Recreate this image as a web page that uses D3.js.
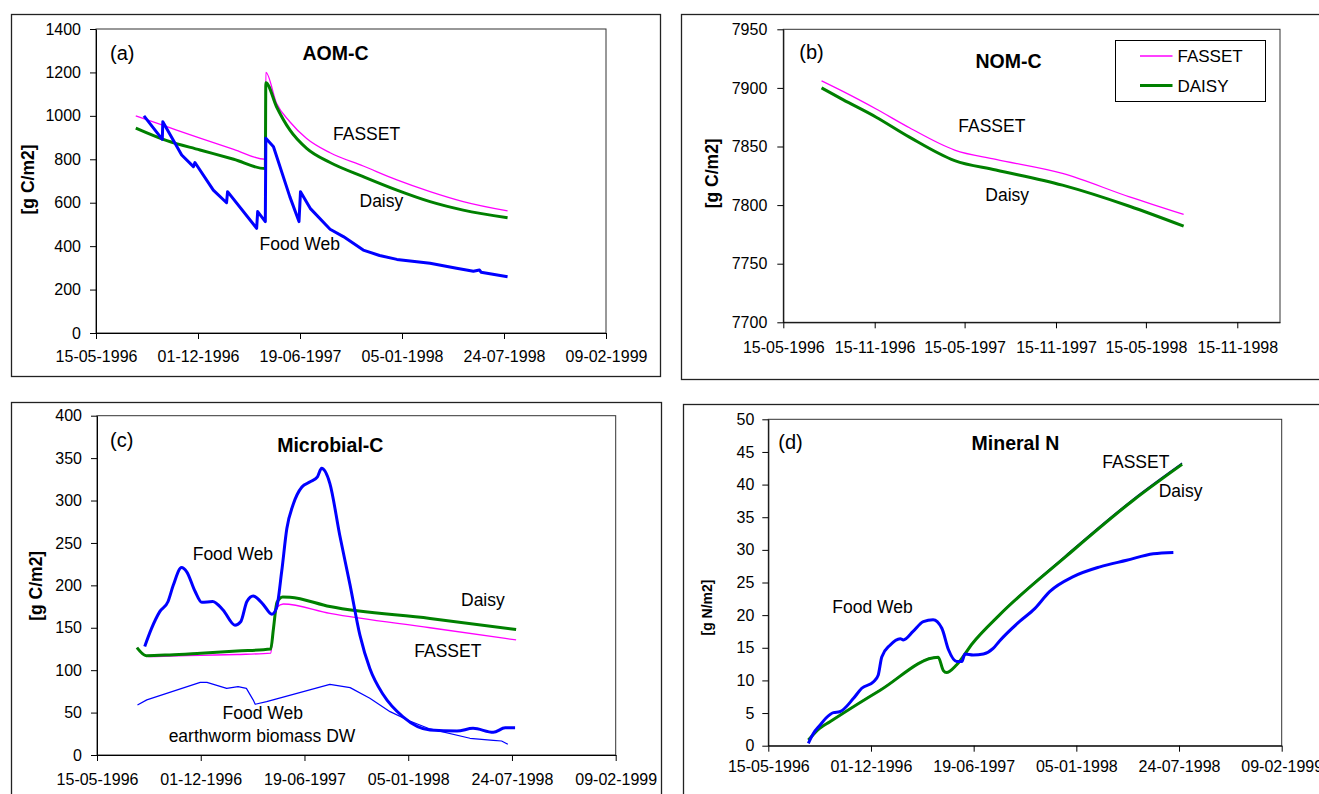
<!DOCTYPE html>
<html>
<head>
<meta charset="utf-8">
<script src="https://cdnjs.cloudflare.com/ajax/libs/d3/7.8.5/d3.min.js"></script>
<style>
    body { margin: 0; background: #fff; }
    svg text { font-family: "Liberation Sans", Arial, sans-serif; fill: #000; }
</style>
</head>
<body>
<svg id="chart" width="1319" height="794"></svg>
<script>
var parseDate = d3.timeParse("%d-%m-%Y");
var fmtDate = d3.timeFormat("%d-%m-%Y");

//==========================================================================================================
// tick labels
var xTicksMain = ["15-05-1996", "01-12-1996", "19-06-1997", "05-01-1998", "24-07-1998", "09-02-1999"];
var xTicksNom = ["15-05-1996", "15-11-1996", "15-05-1997", "15-11-1997", "15-05-1998", "15-11-1998"];
var yTicksAom = [0, 200, 400, 600, 800, 1000, 1200, 1400];
var yTicksNom = [7700, 7750, 7800, 7850, 7900, 7950];
var yTicksMic = [0, 50, 100, 150, 200, 250, 300, 350, 400];
var yTicksMin = [0, 5, 10, 15, 20, 25, 30, 35, 40, 45, 50];
var legendNames = ["FASSET", "DAISY"];

//==========================================================================================================
// (a) AOM-C  [date, g C/m2]
var aomFasset = [["01-08-1996", 1000], ["01-10-1996", 950], ["05-12-1996", 897], ["09-02-1997", 846],
    ["12-04-1997", 800], ["13-04-1997", 1200], ["04-05-1997", 1058], ["30-05-1997", 973], ["02-07-1997", 896],
    ["17-08-1997", 830], ["21-10-1997", 769], ["26-12-1997", 705], ["01-03-1998", 651], ["05-05-1998", 605],
    ["31-07-1998", 562]];
var aomDaisy = [["01-08-1996", 944], ["01-10-1996", 886], ["05-12-1996", 843], ["09-02-1997", 800],
    ["12-04-1997", 757], ["13-04-1997", 1153], ["04-05-1997", 1042], ["30-05-1997", 935], ["02-07-1997", 850],
    ["17-08-1997", 785], ["21-10-1997", 720], ["26-12-1997", 658], ["01-03-1998", 605], ["05-05-1998", 566],
    ["31-07-1998", 531]];
var aomFoodWeb = [["17-08-1996", 1000], ["22-09-1996", 892], ["23-09-1996", 973], ["30-10-1996", 820],
    ["22-11-1996", 766], ["25-11-1996", 785], ["31-12-1996", 658], ["26-01-1997", 600], ["28-01-1997", 651],
    ["26-03-1997", 482], ["28-03-1997", 559], ["12-04-1997", 513], ["13-04-1997", 897], ["28-04-1997", 858],
    ["30-05-1997", 628], ["17-06-1997", 513], ["20-06-1997", 651], ["09-07-1997", 574], ["17-08-1997", 478],
    ["12-09-1997", 444], ["21-10-1997", 382], ["22-11-1997", 357], ["26-12-1997", 339], ["01-03-1998", 321],
    ["22-04-1998", 298], ["25-05-1998", 284], ["06-06-1998", 290], ["09-06-1998", 280], ["31-07-1998", 259]];

// (b) NOM-C
var nomFasset = [["31-07-1996", 7906], ["12-09-1996", 7897], ["18-11-1996", 7882], ["24-01-1997", 7866],
    ["25-04-1997", 7847], ["17-07-1997", 7839], ["28-11-1997", 7827],
    ["12-04-1998", 7807], ["30-07-1998", 7792]];
var nomDaisy = [["31-07-1996", 7900], ["12-09-1996", 7890], ["18-11-1996", 7875], ["24-01-1997", 7858],
    ["25-04-1997", 7838], ["17-07-1997", 7830], ["28-11-1997", 7817],
    ["12-04-1998", 7799], ["30-07-1998", 7782]];

// (c) Microbial-C
var micFasset = [["31-07-1996", 126.6], ["23-08-1996", 116], ["02-10-1996", 116.5], ["01-12-1996", 117.5],
    ["09-02-1997", 118.5], ["15-04-1997", 120], ["20-04-1997", 148], ["27-04-1997", 174], ["09-05-1997", 178],
    ["07-08-1997", 167], ["16-02-1998", 150], ["01-08-1998", 135.6]];
var micDaisy = [["31-07-1996", 126.6], ["18-08-1996", 117.1], ["02-10-1996", 118], ["01-12-1996", 120],
    ["09-02-1997", 122.5], ["15-04-1997", 125], ["20-04-1997", 148], ["27-04-1997", 180], ["08-05-1997", 186.3],
    ["22-05-1997", 186], ["07-08-1997", 175], ["16-02-1998", 161], ["01-08-1998", 148]];
var micFoodWeb = [["15-08-1996", 128], ["28-08-1996", 149], ["13-09-1996", 169], ["29-09-1996", 181],
    ["09-10-1996", 200], ["25-10-1996", 221], ["04-11-1996", 216], ["20-11-1996", 193], ["03-12-1996", 180],
    ["24-12-1996", 181], ["13-01-1997", 171], ["05-02-1997", 153], ["16-02-1997", 157], ["28-02-1997", 181],
    ["12-03-1997", 187.5], ["01-04-1997", 177], ["17-04-1997", 166], ["26-04-1997", 173], ["06-05-1997", 216],
    ["16-05-1997", 267], ["28-05-1997", 295], ["14-06-1997", 316], ["30-06-1997", 322], ["14-07-1997", 328],
    ["22-07-1997", 338], ["07-08-1997", 320], ["26-08-1997", 259], ["15-09-1997", 200], ["04-10-1997", 141],
    ["23-10-1997", 102], ["18-11-1997", 71], ["26-12-1997", 45], ["16-02-1998", 29.5], ["09-04-1998", 28.3],
    ["10-05-1998", 31.4], ["18-06-1998", 26.7], ["11-07-1998", 32], ["30-07-1998", 32]];
var micWorm = [["01-08-1996", 59], ["19-08-1996", 65], ["30-11-1996", 85.7], ["13-12-1996", 85.7],
    ["20-01-1997", 78.6], ["11-02-1997", 80.6], ["27-02-1997", 78.6], ["12-03-1997", 65], ["16-03-1997", 59.8],
    ["07-04-1997", 62.9], ["07-08-1997", 83.3], ["15-09-1997", 79.4], ["23-10-1997", 66.8], ["01-12-1997", 51.1],
    ["08-01-1998", 40.1], ["16-02-1998", 30.7], ["04-05-1998", 19.7], ["18-06-1998", 17.3], ["04-07-1998", 16.5],
    ["16-07-1998", 12.6]];

// (d) Mineral N  [date, g N/m2]
var minFasset = [["01-08-1996", 0.9], ["23-08-1996", 2.7], ["12-09-1996", 3.7], ["19-12-1996", 8.55],
    ["11-04-1997", 13.6], ["21-04-1997", 11.5], ["27-04-1997", 11.2], ["17-05-1997", 12.4], ["17-06-1997", 15.75],
    ["08-08-1997", 20.1], ["16-12-1997", 29.2], ["26-04-1998", 37.8], ["30-07-1998", 43.3]];
var minDaisy = [["01-08-1996", 0.87], ["23-08-1996", 2.66], ["12-09-1996", 3.68], ["19-12-1996", 8.5],
    ["11-04-1997", 13.54], ["21-04-1997", 11.5], ["27-04-1997", 11.2], ["17-05-1997", 12.4], ["17-06-1997", 15.7],
    ["08-08-1997", 20], ["16-12-1997", 29], ["26-04-1998", 37.6], ["30-07-1998", 43.1]];
var minFoodWeb = [["01-08-1996", 0.36], ["11-08-1996", 1.9], ["24-08-1996", 3.17], ["04-09-1996", 4.2],
    ["19-09-1996", 5.06], ["01-10-1996", 5.2], ["28-10-1996", 7.26], ["13-11-1996", 8.8], ["06-12-1996", 9.8],
    ["15-12-1996", 10.8], ["22-12-1996", 13.6], ["07-01-1997", 15.4], ["27-01-1997", 16.4], ["02-02-1997", 16.2],
    ["21-02-1997", 17.5], ["13-03-1997", 19], ["01-04-1997", 19.3], ["18-04-1997", 18], ["01-05-1997", 14.7],
    ["17-05-1997", 12.9], ["27-05-1997", 12.9], ["02-06-1997", 14.05], ["18-06-1997", 13.9], ["08-07-1997", 14.05],
    ["27-07-1997", 14.9], ["08-08-1997", 16], ["16-09-1997", 19], ["16-10-1997", 21], ["14-11-1997", 23.6],
    ["30-12-1997", 25.9], ["20-02-1998", 27.4], ["13-04-1998", 28.4], ["04-06-1998", 29.4], ["13-07-1998", 29.6]];

//==========================================================================================================
var MAGENTA = "#ff00ff", GREEN = "#008000", BLUE = "#0000ff", NAVY = "#000080";
var xStart = parseDate("15-05-1996"), xEnd = parseDate("09-02-1999");

var svg = d3.select("#chart");

var panels = [
    {
        box: [11, 14, 649, 362], plot: { l: 96, r: 606, t: 29, b: 333 },
        yDomain: [0, 1400], yTicks: yTicksAom, xTicks: xTicksMain, padX: 12, padY: 9,
        series: [
            { data: aomFasset, color: MAGENTA, width: 1.3, smooth: true },
            { data: aomDaisy, color: GREEN, width: 3, smooth: true },
            { data: aomFoodWeb, color: BLUE, width: 3, smooth: false }
        ],
        ylabel: { text: "[g C/m2]", x: 27.5, y: 179.5, size: 17.5 },
        labels: [
            { text: "(a)", x: 110, y: 59.5, size: 20 },
            { text: "AOM-C", x: 335.5, y: 60, size: 19.5, bold: true, anchor: "middle" },
            { text: "FASSET", x: 333, y: 140, size: 17.5 },
            { text: "Daisy", x: 359.5, y: 206.5, size: 17.5 },
            { text: "Food Web", x: 259.5, y: 250.3, size: 17.5 }
        ]
    },
    {
        box: [681, 14, 700, 365], plot: { l: 783.3, r: 1280, t: 29.3, b: 322.3 },
        yDomain: [7700, 7950], yTicks: yTicksNom, xTicks: xTicksNom, padX: 13, padY: 10,
        series: [
            { data: nomFasset, color: MAGENTA, width: 1.3, smooth: true },
            { data: nomDaisy, color: GREEN, width: 3, smooth: true }
        ],
        ylabel: { text: "[g C/m2]", x: 711.5, y: 173.3, size: 17.5 },
        labels: [
            { text: "(b)", x: 799.3, y: 59, size: 20 },
            { text: "NOM-C", x: 1008.5, y: 68.3, size: 19.5, bold: true, anchor: "middle" },
            { text: "FASSET", x: 958.3, y: 131.7, size: 17.5 },
            { text: "Daisy", x: 985.3, y: 200.7, size: 17.5 }
        ],
        legend: { x: 1115.5, y: 40.5, w: 150, h: 61, colors: [MAGENTA, GREEN], widths: [1.3, 3] }
    },
    {
        box: [11, 402, 650, 420], plot: { l: 97, r: 615.7, t: 415.7, b: 755 },
        yDomain: [0, 400], yTicks: yTicksMic, xTicks: xTicksMain, padX: 13, padY: 9,
        series: [
            { data: micFasset, color: MAGENTA, width: 1.3, smooth: true },
            { data: micDaisy, color: GREEN, width: 3, smooth: true },
            { data: micWorm, color: BLUE, width: 1.2, smooth: false },
            { data: micFoodWeb, color: BLUE, width: 3, smooth: true }
        ],
        ylabel: { text: "[g C/m2]", x: 36, y: 585.8, size: 17.5 },
        labels: [
            { text: "(c)", x: 110, y: 446.5, size: 20 },
            { text: "Microbial-C", x: 330.3, y: 452.3, size: 19.5, bold: true, anchor: "middle" },
            { text: "Food Web", x: 192.7, y: 560, size: 17.5 },
            { text: "Daisy", x: 461, y: 606, size: 17.5 },
            { text: "FASSET", x: 414.3, y: 656.7, size: 17.5 },
            { text: "Food Web", x: 262.7, y: 719, size: 17.5, anchor: "middle" },
            { text: "earthworm biomass DW", x: 262, y: 741.7, size: 17.5, anchor: "middle" }
        ]
    },
    {
        box: [683, 404, 700, 420], plot: { l: 768.3, r: 1281.7, t: 419.3, b: 745.7 },
        yDomain: [0, 50], yTicks: yTicksMin, xTicks: xTicksMain, padX: 9, padY: 8,
        series: [
            { data: minFasset, color: NAVY, width: 1.2, smooth: true },
            { data: minDaisy, color: GREEN, width: 3, smooth: true },
            { data: minFoodWeb, color: BLUE, width: 3, smooth: true }
        ],
        ylabel: { text: "[g N/m2]", x: 707, y: 607.5, size: 14 },
        labels: [
            { text: "(d)", x: 778.3, y: 449, size: 20 },
            { text: "Mineral N", x: 1015.5, y: 450, size: 19.5, bold: true, anchor: "middle" },
            { text: "FASSET", x: 1102.3, y: 468.3, size: 17.5 },
            { text: "Daisy", x: 1158.7, y: 497, size: 17.5 },
            { text: "Food Web", x: 832.3, y: 613.3, size: 17.5 }
        ]
    }
];

//==========================================================================================================
// draw one panel
var drawPanel = function (p) {
    var g = svg.append("g");

    // outer frame
    g.append("rect")
        .attr("x", p.box[0] + 0.5).attr("y", p.box[1] + 0.5)
        .attr("width", p.box[2]).attr("height", p.box[3])
        .attr("fill", "none").attr("stroke", "#222").attr("stroke-width", 1.3);

    var xScale = d3.scaleTime().domain([xStart, xEnd]).range([p.plot.l, p.plot.r]);
    var yScale = d3.scaleLinear().domain(p.yDomain).range([p.plot.b, p.plot.t]);

    // plot area border
    g.append("rect")
        .attr("x", p.plot.l).attr("y", p.plot.t)
        .attr("width", p.plot.r - p.plot.l).attr("height", p.plot.b - p.plot.t)
        .attr("fill", "none").attr("stroke", "#333").attr("stroke-width", 1);

    var xAxis = d3.axisBottom(xScale)
        .tickValues(p.xTicks.map(parseDate))
        .tickFormat(fmtDate)
        .tickSize(6).tickSizeOuter(0).tickPadding(p.padX);
    var yAxis = d3.axisLeft(yScale)
        .tickValues(p.yTicks)
        .tickFormat(d3.format("d"))
        .tickSize(6).tickSizeOuter(0).tickPadding(p.padY);

    var gx = g.append("g").attr("transform", "translate(0," + p.plot.b + ")").call(xAxis);
    var gy = g.append("g").attr("transform", "translate(" + p.plot.l + ",0)").call(yAxis);
    [gx, gy].forEach(function (a) {
        a.attr("font-size", 16).attr("font-family", "Liberation Sans, Arial, sans-serif");
        a.selectAll("line, path").attr("stroke", "#000").attr("stroke-width", 1);
    });

    // series
    p.series.forEach(function (s) {
        var line = d3.line()
            .x(function (d) { return xScale(parseDate(d[0])); })
            .y(function (d) { return yScale(d[1]); })
            .curve(s.smooth ? d3.curveMonotoneX : d3.curveLinear);
        g.append("path")
            .attr("d", line(s.data))
            .attr("fill", "none")
            .attr("stroke", s.color)
            .attr("stroke-width", s.width)
            .attr("stroke-linejoin", "round");
    });

    // y axis title
    g.append("text")
        .attr("transform", "translate(" + p.ylabel.x + "," + p.ylabel.y + ") rotate(-90)")
        .attr("text-anchor", "middle")
        .attr("dominant-baseline", "central")
        .attr("font-weight", "bold")
        .attr("font-size", p.ylabel.size)
        .text(p.ylabel.text);

    // annotations
    p.labels.forEach(function (l) {
        g.append("text")
            .attr("x", l.x).attr("y", l.y)
            .attr("font-size", l.size)
            .attr("font-weight", l.bold ? "bold" : "normal")
            .attr("text-anchor", l.anchor || "start")
            .text(l.text);
    });

    // legend
    if (p.legend) {
        var lg = p.legend;
        g.append("rect")
            .attr("x", lg.x).attr("y", lg.y).attr("width", lg.w).attr("height", lg.h)
            .attr("fill", "#fff").attr("stroke", "#000").attr("stroke-width", 1);
        legendNames.forEach(function (name, i) {
            var ly = lg.y + 15.5 + i * 29.5;
            g.append("line")
                .attr("x1", lg.x + 24.5).attr("x2", lg.x + 57)
                .attr("y1", ly).attr("y2", ly)
                .attr("stroke", lg.colors[i]).attr("stroke-width", lg.widths[i]);
            g.append("text")
                .attr("x", lg.x + 62).attr("y", ly + 6)
                .attr("font-size", 17)
                .text(name);
        });
    }
};

panels.forEach(drawPanel);
</script>
</body>
</html>
